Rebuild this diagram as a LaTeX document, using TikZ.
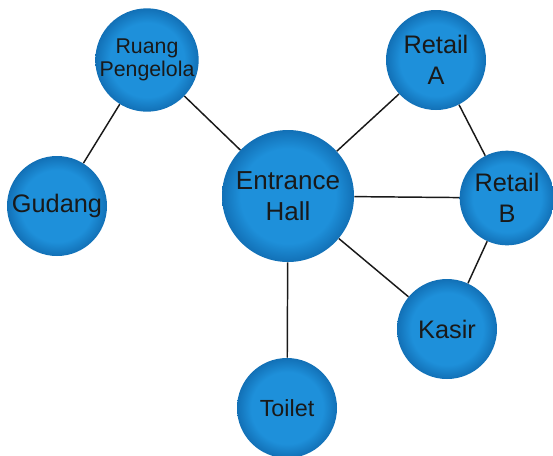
\documentclass[tikz,border=0pt]{standalone}
\usepackage{fontspec}
\setmainfont{Liberation Sans}
\definecolor{ballblue}{RGB}{30,144,218}
\definecolor{balldark}{RGB}{18,112,182}
\pgfdeclareradialshading{ball}{\pgfpoint{0bp}{0bp}}{color(0bp)=(ballblue); color(18bp)=(ballblue); color(25bp)=(balldark); color(50bp)=(balldark)}
\tikzset{
    room/.style={circle, shading=ball, inner sep=0pt, minimum size=75pt, align=center,
        font=\fontsize{19}{23}\selectfont, text=black!90},
    link/.style={draw=black!90, line width=1.1pt}
}
\begin{document}
\begin{tikzpicture}[x=0.75pt, y=-0.75pt]
    \useasboundingbox (0,0) rectangle (553,455);

    % Rooms
    \node[room, minimum size=99pt, font=\fontsize{19.5}{23}\selectfont] (hall) at (288,196) {Entrance\\Hall};
    \node[room, font=\fontsize{16}{17}\selectfont] (ruang) at (147,60) {Ruang\\Pengelola};
    \node[room] (gudang) at (57,206) {Gudang};
    \node[room] (retaila) at (436,60) {Retail\\A};
    \node[room, minimum size=71pt] (retailb) at (507,198) {Retail\\B};
    \node[room] (kasir) at (447,329) {Kasir};
    \node[room, font=\fontsize{17.5}{23}\selectfont] (toilet) at (287,408) {Toilet};

    % Connections
    \draw[link] (ruang) -- (gudang);
    \draw[link] (ruang) -- (hall);
    \draw[link] (hall) -- (retaila);
    \draw[link] (hall) -- (retailb);
    \draw[link] (retaila) -- (retailb);
    \draw[link] (retailb) -- (kasir);
    \draw[link] (hall) -- (kasir);
    \draw[link] (hall) -- (toilet);
\end{tikzpicture}
\end{document}
